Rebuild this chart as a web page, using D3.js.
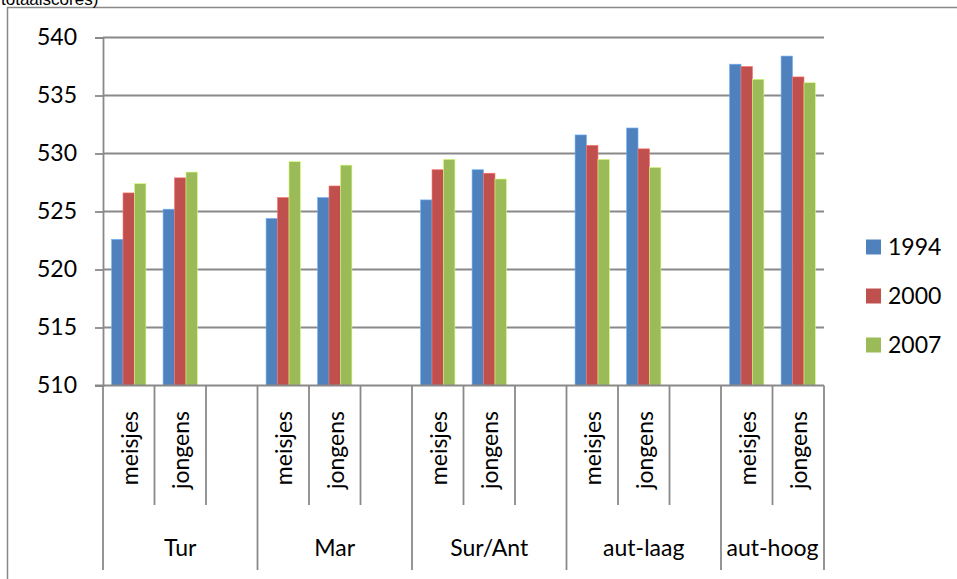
<!DOCTYPE html>
<html>
<head>
<meta charset="utf-8">
<script src="https://cdn.jsdelivr.net/npm/d3@7"></script>
<style>
  html, body { margin: 0; padding: 0; background: #fff; }
  svg { display: block; }
  text { font-family: Lato, "Open Sans", sans-serif; fill: #000; }
</style>
</head>
<body>
<svg id="chart" width="957" height="579"></svg>
<script>
// Groups and sub-categories along the x axis
const groups = ["Tur", "Mar", "Sur/Ant", "aut-laag", "aut-hoog"];
const genders = ["meisjes", "jongens"];
const seriesNames = ["1994", "2000", "2007"];
const seriesColors = ["#4F81BD", "#C0504D", "#9BBB59"];

// Scores per group, ordered meisjes, jongens
const v1994 = [522.6, 525.2, 524.4, 526.2, 526.0, 528.6, 531.6, 532.2, 537.7, 538.4];
const v2000 = [526.6, 527.9, 526.2, 527.2, 528.6, 528.3, 530.7, 530.4, 537.5, 536.6];
const v2007 = [527.4, 528.4, 529.3, 529.0, 529.5, 527.8, 529.5, 528.8, 536.4, 536.1];

const yTicks = [510, 515, 520, 525, 530, 535, 540];

const seriesValues = [v1994, v2000, v2007];

// Slots along the axis: two genders per group, plus an empty spacer slot between groups
const slots = [];
groups.forEach((g, gi) => {
  genders.forEach((s, si) => slots.push({ id: `${g}|${s}`, group: g, label: s, idx: gi * 2 + si }));
  if (gi < groups.length - 1) slots.push({ id: `${g}|gap`, group: g, label: "", idx: null });
});

const svg = d3.select("#chart");
const plot = { left: 103, right: 824, top: 37.5, bottom: 385.5 };

const x = d3.scaleBand().domain(slots.map(d => d.id)).range([plot.left, plot.right]).padding(0);
const y = d3.scaleLinear().domain([510, 540]).range([plot.bottom, plot.top]);

const barW = x.bandwidth() / 4.5;
const inner = d3.scaleBand().domain(seriesNames).range([0.75 * barW, 3.75 * barW]).padding(0);

const lineColor = "#898989";

// Outer chart frame
svg.append("rect")
  .attr("x", 7.5).attr("y", 7.5)
  .attr("width", 1000).attr("height", 700)
  .attr("fill", "none").attr("stroke", lineColor).attr("stroke-width", 1.5);

// Partial title line above the frame
svg.append("text")
  .attr("x", 1).attr("y", 5)
  .style("font-family", "'Liberation Sans', Arial, sans-serif")
  .style("font-size", "17px")
  .text("totaalscores)");

// Horizontal gridlines
svg.append("g").selectAll("line").data(yTicks.filter(t => t !== 510)).join("line")
  .attr("x1", plot.left).attr("x2", plot.right)
  .attr("y1", d => y(d)).attr("y2", d => y(d))
  .attr("stroke", lineColor).attr("stroke-width", 1.8);

// Y axis
const yAxis = svg.append("g")
  .attr("transform", `translate(${plot.left},0)`)
  .call(d3.axisLeft(y).tickValues(yTicks).tickSize(8).tickPadding(18).tickFormat(d3.format("d")));
yAxis.select(".domain").attr("stroke", lineColor).attr("stroke-width", 1.8);
yAxis.selectAll(".tick line").attr("stroke", lineColor).attr("stroke-width", 1.8);
yAxis.selectAll(".tick text")
  .style("font-family", "Lato, sans-serif").style("font-size", "23px").attr("fill", "#000");

// Bars
const barGroups = svg.append("g").selectAll("g")
  .data(seriesNames.map((name, i) => ({ name, color: seriesColors[i], values: seriesValues[i] })))
  .join("g")
  .attr("fill", d => d.color);

barGroups.selectAll("rect")
  .data(d => slots.filter(s => s.idx !== null).map(s => ({ slot: s, series: d.name, value: d.values[s.idx], color: d.color })))
  .join("rect")
  .attr("x", d => x(d.slot.id) + inner(d.series))
  .attr("width", inner.bandwidth())
  .attr("y", d => y(d.value))
  .attr("height", d => y(510) - y(d.value))
  .attr("stroke", d => d3.color(d.color).brighter(0.9))
  .attr("stroke-width", 0.6);

// X axis line
svg.append("line")
  .attr("x1", plot.left - 8).attr("x2", plot.right)
  .attr("y1", plot.bottom).attr("y2", plot.bottom)
  .attr("stroke", lineColor).attr("stroke-width", 1.8);

// Category separators: short between slots, long at group boundaries
const cat = svg.append("g");
const boundaries = [];
slots.forEach((s, i) => {
  const groupStart = i === 0 || slots[i - 1].group !== s.group;
  boundaries.push({ x: x(s.id), long: groupStart });
});
boundaries.push({ x: plot.right, long: true });

cat.selectAll("line").data(boundaries).join("line")
  .attr("x1", d => d.x).attr("x2", d => d.x)
  .attr("y1", plot.bottom).attr("y2", d => d.long ? 570 : 505)
  .attr("stroke", lineColor).attr("stroke-width", 1.8);

// Rotated gender labels
cat.selectAll("text.sub").data(slots.filter(s => s.label)).join("text")
  .attr("class", "sub")
  .attr("transform", d => `translate(${x(d.id) + x.bandwidth() / 2 + 1},411) rotate(-90)`)
  .attr("text-anchor", "end")
  .attr("dy", "0.35em")
  .style("font-size", "23px")
  .text(d => d.label);

// Group labels
const groupExtent = groups.map(g => {
  const ss = slots.filter(s => s.group === g);
  return { name: g, x0: x(ss[0].id), x1: x(ss[ss.length - 1].id) + x.bandwidth() };
});
cat.selectAll("text.grp").data(groupExtent).join("text")
  .attr("class", "grp")
  .attr("x", d => (d.x0 + d.x1) / 2)
  .attr("y", 555.5)
  .attr("text-anchor", "middle")
  .style("font-size", "23px")
  .text(d => d.name);

// Legend
const legend = svg.append("g").selectAll("g")
  .data(seriesNames.map((name, i) => ({ name, color: seriesColors[i] })))
  .join("g")
  .attr("transform", (d, i) => `translate(866,${247 + i * 49})`);
legend.append("rect")
  .attr("x", 0).attr("y", -7.5).attr("width", 15).attr("height", 15)
  .attr("fill", d => d.color);
legend.append("text")
  .attr("x", 22).attr("dy", "0.36em")
  .style("font-size", "23px")
  .text(d => d.name);
</script>
</body>
</html>
